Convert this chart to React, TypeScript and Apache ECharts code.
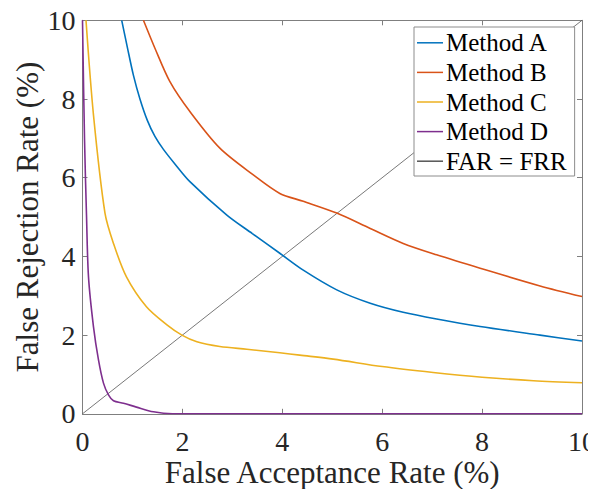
import React, { useEffect, useRef } from "react";
import * as echarts from "echarts";

const FONT = "'Liberation Serif', 'Times New Roman', Times, serif";

const seriesNames = ["Method A", "Method B", "Method C", "Method D", "FAR = FRR"];
const seriesColors = ["#0072BD", "#D95319", "#EDB120", "#7E2F8E", "#555555"];

const aX = [0.785, 0.9, 1.02, 1.15, 1.3, 1.45, 1.62, 1.85, 2.15, 2.89, 3.4, 3.95, 4.42, 5.09, 5.76, 6.42, 7.09, 7.96, 9.16, 10];
const aY = [10, 9.3, 8.6, 8.0, 7.45, 7.05, 6.72, 6.35, 5.9, 5.05, 4.58, 4.08, 3.65, 3.15, 2.81, 2.58, 2.41, 2.22, 2.0, 1.85];

const bX = [1.22, 1.45, 1.75, 2.15, 2.75, 3.42, 3.95, 4.42, 5.09, 5.76, 6.42, 7.09, 7.96, 9.16, 10];
const bY = [10, 9.29, 8.44, 7.68, 6.75, 6.07, 5.6, 5.4, 5.1, 4.71, 4.33, 4.04, 3.7, 3.25, 2.98];

const cX = [0.07, 0.22, 0.45, 0.62, 0.88, 1.28, 1.69, 1.99, 2.29, 2.75, 3.29, 3.95, 4.35, 5.02, 6.0, 7.02, 8.0, 9.03, 10];
const cY = [10, 7.59, 5.1, 4.33, 3.48, 2.72, 2.26, 2.0, 1.83, 1.71, 1.64, 1.55, 1.49, 1.39, 1.2, 1.05, 0.93, 0.84, 0.79];

const dX = [0, 0.04, 0.08, 0.12, 0.22, 0.32, 0.42, 0.52, 0.62, 0.82, 1.08, 1.42, 1.8, 10];
const dY = [10, 7, 5.05, 3.48, 2.21, 1.37, 0.78, 0.48, 0.33, 0.27, 0.17, 0.05, 0, 0];

const eqX = [0, 10];
const eqY = [0, 10];

const xTitle = "False Acceptance Rate (%)";
const yTitle = "False Rejection Rate (%)";

const zip = (xs: number[], ys: number[]) => xs.map((x, i) => [x, ys[i]]);

export default function App() {
  const ref = useRef<HTMLDivElement>(null);
  useEffect(() => {
    if (!ref.current) return;
    const chart = echarts.init(ref.current, null, { renderer: "svg" });
    const axisColor = "#7f7f7f";
    const textColor = "#262626";
    const baseX = {
      type: "value" as const,
      min: 0,
      max: 10,
      interval: 2,
      splitLine: { show: false },
      axisLine: { show: true, onZero: false, lineStyle: { color: axisColor, width: 1 } },
      axisTick: { show: true, inside: true, length: 5, lineStyle: { color: axisColor } },
    };
    const datas = [zip(aX, aY), zip(bX, bY), zip(cX, cY), zip(dX, dY), zip(eqX, eqY)];
    chart.setOption({
      animation: false,
      backgroundColor: "#ffffff",
      textStyle: { fontFamily: FONT },
      grid: { left: 74.5, right: 6, top: 12.3, bottom: 75.2, containLabel: false, outerBoundsMode: "none" },
      legend: {
        left: 406,
        top: 19,
        orient: "vertical",
        padding: [1, 8, 0, 3],
        itemGap: 0,
        itemWidth: 26,
        itemHeight: 1.5,
        icon: "rect",
        backgroundColor: "#ffffff",
        borderColor: "#8c8c8c",
        borderWidth: 1,
        borderRadius: 0,
        data: seriesNames.map((n, i) => ({
          name: n,
          icon: "rect",
          itemStyle: { color: seriesColors[i], borderWidth: 0, opacity: 1 },
        })),
        textStyle: { fontFamily: FONT, fontSize: 25, color: "#000000", lineHeight: 29.6, padding: [0, 0, 0, -2] },
      },
      xAxis: [
        {
          ...baseX,
          position: "bottom",
          name: xTitle,
          nameLocation: "middle",
          nameGap: 43,
          nameMoveOverlap: false,
          nameTextStyle: { fontFamily: FONT, fontSize: 31, color: textColor },
          axisLabel: { show: true, fontFamily: FONT, fontSize: 28, color: textColor, margin: 14 },
        },
        { ...baseX, position: "top", axisLabel: { show: false } },
      ],
      yAxis: [
        {
          ...baseX,
          position: "left",
          name: yTitle,
          nameLocation: "middle",
          nameGap: 40,
          nameMoveOverlap: false,
          nameTextStyle: { fontFamily: FONT, fontSize: 31, color: textColor },
          axisLabel: { show: true, fontFamily: FONT, fontSize: 28, color: textColor, margin: 7 },
        },
        { ...baseX, position: "right", axisLabel: { show: false } },
      ],
      series: seriesNames.map((name, i) => ({
        name,
        type: "line",
        data: datas[i],
        xAxisIndex: 0,
        yAxisIndex: 0,
        symbol: "none",
        showSymbol: false,
        smooth: i < 4 ? 0.3 : false,
        clip: true,
        z: i === 4 ? 1 : 2,
        color: seriesColors[i],
        itemStyle: { color: seriesColors[i] },
        lineStyle: { color: seriesColors[i], width: i === 4 ? 0.8 : 1.6 },
      })),
    });
    return () => chart.dispose();
  }, []);
  return <div ref={ref} style={{ width: 580, height: 481 }} />;
}
